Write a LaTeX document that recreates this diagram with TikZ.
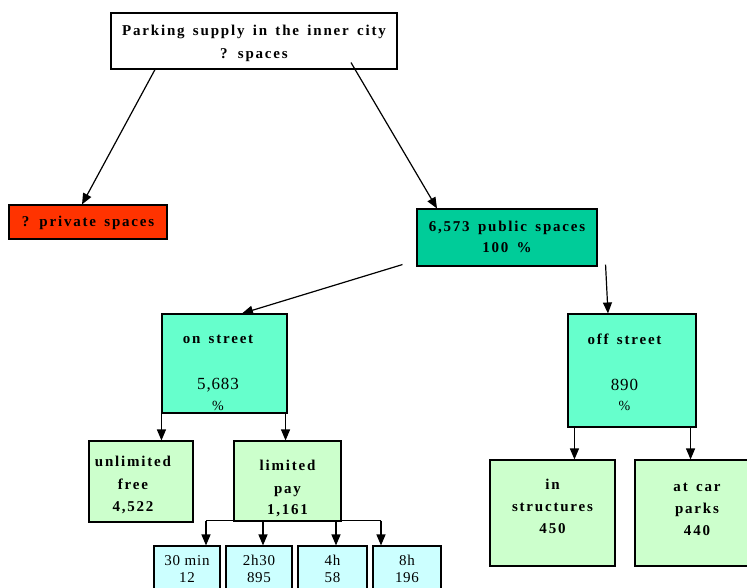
\documentclass[tikz,border=0pt]{standalone}
\usepackage{fontspec}
\setmainfont{Liberation Serif}
\newfontfamily\boxfont[LetterSpace=12,WordSpace=1.5]{Liberation Serif}
\newfontfamily\numfont[LetterSpace=5]{Liberation Serif}
\usetikzlibrary{arrows.meta}

\definecolor{redbox}{HTML}{FF3300}
\definecolor{tealbox}{HTML}{00CC99}
\definecolor{aquabox}{HTML}{66FFCC}
\definecolor{greenbox}{HTML}{CCFFCC}
\definecolor{cyanbox}{HTML}{CCFFFF}

% box text: width, height, gap above first line, lines
\newcommand{\boxtext}[4]{\parbox[c][#2][t]{#1}{\centering\vspace*{#3}\rule{0pt}{10pt}#4\par}}
\newcommand{\bignum}[1]{{\fontsize{17}{20}\numfont\mdseries#1}}
\newcommand{\pct}{{\fontsize{14}{20}\numfont\mdseries\%}}

\tikzset{
  cell/.style={draw, line width=1.1pt, inner sep=0pt,
    font=\fontsize{15}{22}\boxfont\bfseries},
  slot/.style={cell, font=\fontsize{15}{18}\numfont\mdseries},
  arr/.style={line width=1.2pt, -{Triangle[length=11pt,width=9pt]}},
  bus/.style={line width=1.2pt}
}

\begin{document}
\begin{tikzpicture}[x=1pt, y=-1pt]
  \useasboundingbox (0,0) rectangle (747,587);
  \clip (0,0) rectangle (747,587);

  % top levels
  \node[cell, fill=white] (top) at (254,41) {\boxtext{286pt}{56pt}{12pt}{Parking supply in the inner city\\[1pt]? spaces}};
  \node[cell, fill=redbox] (priv) at (88,222) {\boxtext{158pt}{34pt}{11.5pt}{? private spaces}};
  \node[cell, fill=tealbox] (pub) at (507,237.5) {\boxtext{180pt}{57pt}{12.5pt}{6,573 public spaces\\[-1pt]100 \%}};

  % on street / off street
  \node[cell, fill=aquabox] (onst) at (224.5,363.5) {\boxtext{125pt}{99pt}{19.5pt}{\rightskip=13pt plus 1fil on street\\[24pt]\bignum{5,683}\\[-1.5pt]\pct}};
  \node[cell, fill=aquabox] (offst) at (632,370.5) {\boxtext{128pt}{113pt}{19.5pt}{\rightskip=15pt plus 1fil off street\\[24pt]\bignum{890}\\[-1.5pt]\pct}};

  % third level
  \node[cell, fill=greenbox] (unl) at (141,481.5) {\boxtext{104pt}{81pt}{15.5pt}{\rightskip=16pt plus 1fil unlimited\\[1pt]free\\[0pt]4,522}};
  \node[cell, fill=greenbox] (lim) at (287.5,481) {\boxtext{107pt}{80pt}{19.5pt}{limited\\[1pt]pay\\[-1pt]1,161}};
  \node[cell, fill=greenbox] (instr) at (552.5,513) {\boxtext{125pt}{106pt}{19.5pt}{in\\[0pt]structures\\[0pt]450}};
  \node[cell, fill=greenbox] (park) at (697,513) {\boxtext{124pt}{106pt}{21.5pt}{at car\\[0pt]parks\\[0pt]440}};

  % time slots
  \node[slot, fill=cyanbox] (s1) at (187,573) {\boxtext{66pt}{54pt}{9.5pt}{30 min\\[-1pt]12}};
  \node[slot, fill=cyanbox] (s2) at (259,573) {\boxtext{66pt}{54pt}{9.5pt}{2h30\\[-1pt]895}};
  \node[slot, fill=cyanbox] (s3) at (332.5,573) {\boxtext{69pt}{54pt}{9.5pt}{4h\\[-1pt]58}};
  \node[slot, fill=cyanbox] (s4) at (407,573) {\boxtext{68pt}{54pt}{9.5pt}{8h\\[-1pt]196}};

  % connectors
  \draw[arr] ([xshift=-99pt]top.south) -- ([xshift=-6pt]priv.north);
  \draw[arr] ([xshift=97pt,yshift=7pt]top.south) -- ([xshift=-70pt]pub.north);
  \draw[arr] ([xshift=-14pt,yshift=2pt]pub.south west) -- ([xshift=17.5pt]onst.north);
  \draw[arr] ([xshift=8pt,yshift=2pt]pub.south east) -- ([xshift=-24pt]offst.north);
  \draw[arr] (onst.south west) -- (onst.south west |- unl.north);
  \draw[arr] ([xshift=-2pt]onst.south east) -- ([xshift=-2pt]onst.south east |- lim.north);
  \draw[arr] ([xshift=7pt]offst.south west) -- ([xshift=7pt]offst.south west |- instr.north);
  \draw[arr] ([xshift=-6pt]offst.south east) -- ([xshift=-6pt]offst.south east |- park.north);

  \coordinate (busl) at (206,520.5);
  \coordinate (busr) at (381,520.5);
  \draw[bus] (busl) -- (busr);
  \draw[arr] (busl) -- (busl |- s1.north);
  \draw[arr] ([xshift=4pt]s2.north |- busl) -- ([xshift=4pt]s2.north);
  \draw[arr] ([xshift=3.5pt]s3.north |- busl) -- ([xshift=3.5pt]s3.north);
  \draw[arr] (busr) -- (busr |- s4.north);
\end{tikzpicture}
\end{document}
